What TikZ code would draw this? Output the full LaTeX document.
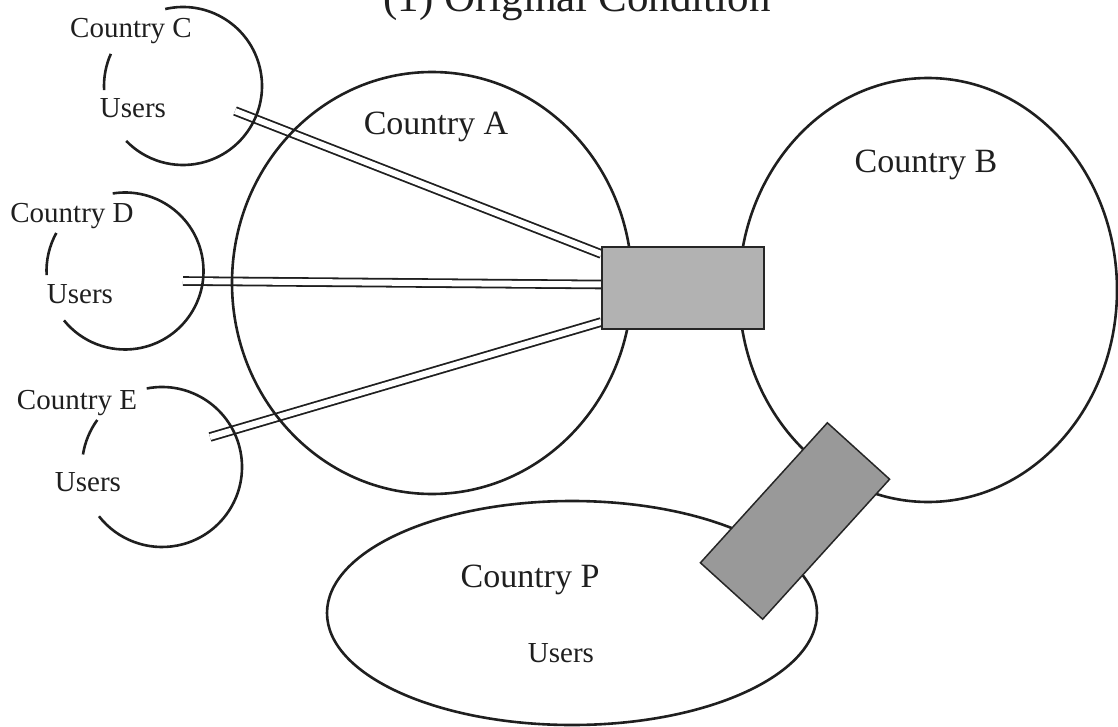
\documentclass[tikz,border=0pt]{standalone}
\usepackage{fontspec}
\setmainfont{Liberation Serif}
\usetikzlibrary{shapes.geometric,calc,backgrounds}
\begin{document}
\begin{tikzpicture}[x=1pt,y=-1pt,
  outline/.style={draw=black!88, line width=2.6pt},
  region/.style={outline, ellipse, inner sep=0pt},
  wire/.style={draw=black!88, line width=1.8pt, double=white, double distance=6pt},
  gate/.style={draw=black!85, line width=1.5pt, rectangle, inner sep=0pt},
  lbl/.style={font=\fontsize{34}{40}\selectfont, anchor=base, inner sep=0pt, text=black!88},
  slbl/.style={font=\fontsize{29}{34}\selectfont, anchor=base, inner sep=0pt, text=black!88},
]
\useasboundingbox (0,0) rectangle (1118,727);

% title (cut at the top as in the reference)
\node[font=\fontsize{43}{50}\selectfont, anchor=base, inner sep=0pt, text=black!88] (title) at (577,12) {(1) Original Condition};

% gateways
\node[gate, fill=black!30, minimum width=162pt, minimum height=82pt] (R1) at (683,288) {};
\node[gate, fill=black!40, minimum width=189pt, minimum height=84pt, rotate=47.8] (R2) at (795,521) {};

\begin{pgfonlayer}{background}
  % free ends of the links
  \coordinate (cC) at (235,111);
  \coordinate (cD) at (183,281);
  \coordinate (cE) at (210,437);
  \draw[wire] (cC) -- ([yshift=34pt]R1.west);
  \draw[wire] (cD) -- ([yshift=3.5pt]R1.west);
  \draw[wire] (cE) -- ([yshift=-34pt]R1.west);

  % countries
  \node[region, minimum width=400pt, minimum height=422pt] (A) at (432,283) {};
  \node[region, minimum width=378pt, minimum height=424pt] (B) at (928,290) {};
  \node[region, minimum width=490pt, minimum height=224pt] (P) at (572,613) {};

  % small countries (open arcs)
  \draw[outline] ([shift={(103:79pt)}]183,86) arc[start angle=103, end angle=-136, radius=79pt];
  \draw[outline] ([shift={(156:79pt)}]183,86) arc[start angle=156, end angle=183, radius=79pt];
  \draw[outline] ([shift={(99:78.5pt)}]125,271) arc[start angle=99, end angle=-141, radius=78.5pt];
  \draw[outline] ([shift={(151:78.5pt)}]125,271) arc[start angle=151, end angle=183, radius=78.5pt];
  \draw[outline] ([shift={(101:80pt)}]162,467) arc[start angle=101, end angle=-142, radius=80pt];
  \draw[outline] ([shift={(144:80pt)}]162,467) arc[start angle=144, end angle=171, radius=80pt];
\end{pgfonlayer}

% labels
\node[lbl] (tA) at (436,135) {Country A};
\node[lbl] (tB) at (926,173) {Country B};
\node[lbl] (tP) at (530,587) {Country P};
\node[slbl] (uP) at (561,662) {Users};
\node[slbl] (tC) at (131,38) {Country C};
\node[slbl] (uC) at (133,118) {Users};
\node[slbl] (tD) at (72,223) {Country D};
\node[slbl] (uD) at (80,303) {Users};
\node[slbl] (tE) at (77,409) {Country E};
\node[slbl] (uE) at (88,491) {Users};
\end{tikzpicture}
\end{document}
